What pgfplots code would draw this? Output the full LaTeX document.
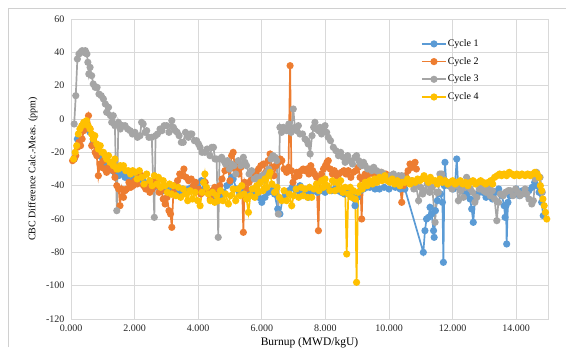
\documentclass[border=0pt]{standalone}
\usepackage{pgfplots}
\pgfplotsset{compat=1.18}
\usepackage{fontspec}
\setmainfont{Liberation Serif}
\definecolor{cA}{HTML}{5B9BD5}
\definecolor{cB}{HTML}{ED7D31}
\definecolor{cC}{HTML}{A5A5A5}
\definecolor{cD}{HTML}{FFC000}
\definecolor{gridc}{HTML}{D9D9D9}
\definecolor{framec}{HTML}{D0D0D0}
\begin{document}
\begin{tikzpicture}[x=1bp,y=1bp]
\useasboundingbox (0,0) rectangle (574,356);
\draw[framec,line width=0.8bp] (8,9) -- (8,348) -- (566,348);
\begin{axis}[
  at={(71bp,37bp)}, anchor=south west,
  scale only axis, width=477bp, height=300bp,
  xmin=0, xmax=15, ymin=-120, ymax=60,
  xtick={0,2,4,6,8,10,12,14},
  ytick={-120,-100,-80,-60,-40,-20,0,20,40,60},
  grid=major,
  major grid style={gridc, line width=0.7bp},
  axis line style={gridc, line width=0.7bp},
  major tick length=0pt,
  /pgf/number format/assume math mode=true,
  xticklabel style={/pgf/number format/fixed, /pgf/number format/fixed zerofill, /pgf/number format/precision=3, /pgf/number format/1000 sep={}, /tikz/yshift=-2bp},
  yticklabel style={/pgf/number format/fixed, /pgf/number format/precision=0, /tikz/xshift=-3bp},
  tick label style={font=\fontsize{10bp}{12bp}\selectfont, text=black!85},
  xlabel={Burnup (MWD/kgU)},
  ylabel={CBC Difference Calc.-Meas. (ppm)},
  xlabel style={font=\fontsize{11.5bp}{13bp}\selectfont, at={(axis description cs:0.5,-0.08)}, anchor=center},
  ylabel style={font=\fontsize{10bp}{12bp}\selectfont, at={(axis description cs:-0.0797,0.5)}, anchor=center},
  legend style={at={(axis description cs:0.734,0.937)}, anchor=north west, draw=none, fill=none,
     inner sep=0pt, outer sep=0pt, row sep=5.7bp,
     nodes={inner sep=1bp, text height=7.5bp, text depth=2.5bp},
     font=\fontsize{10bp}{12bp}\selectfont},
  legend cell align=left,
  legend image code/.code={\draw[mark repeat=2,mark phase=2] plot coordinates {(0bp,0bp) (12bp,0bp) (24bp,0bp)};},
  every axis plot/.append style={line width=1.7bp, mark=*, mark size=2.7bp},
]
% Cycle 1
\addplot[cA, mark options={fill=cA, draw=cA}] coordinates {
(0.10,-24)(0.20,-12)(0.30,-6)(0.40,-4)(0.50,-3)(0.60,-8)(0.70,-14)(0.80,-20)(0.90,-22)(1.00,-24)
(1.10,-27)(1.20,-28)(1.30,-31)(1.40,-33)(1.50,-34)(1.60,-32)(1.70,-35)(1.80,-34)(1.90,-36)(2.00,-35)
(2.10,-37)(2.20,-36)(2.30,-38)(2.40,-40)(2.50,-39)(2.60,-41)(2.70,-40)(2.80,-42)(2.90,-43)(3.00,-41)
(3.10,-44)(3.20,-43)(3.30,-45)(3.40,-43)(3.50,-42)(3.60,-44)(3.70,-42)(3.80,-41)(3.90,-39)(4.00,-41)
(4.10,-37)(4.20,-42)(4.30,-44)(4.40,-46)(4.50,-47)(4.60,-45)(4.70,-46)(4.80,-44)(4.90,-40)(5.00,-38)
(5.05,-35)(5.10,-36)(5.20,-42)(5.30,-44)(5.40,-43)(5.50,-45)(5.60,-44)(5.70,-45)(5.80,-46)(5.90,-47)
(6.00,-50)(6.10,-47)(6.20,-44)(6.30,-43)(6.40,-45)(6.50,-54)(6.57,-57)(6.65,-48)(6.75,-45)(6.85,-43)
(6.95,-41)(7.05,-42)(7.15,-43)(7.20,-40)(7.30,-43)(7.40,-45)(7.46,-47)(7.55,-44)(7.65,-43)(7.75,-44)
(7.85,-43)(7.99,-44)(8.10,-42)(8.20,-43)(8.30,-42)(8.40,-43)(8.50,-44)(8.60,-45)(8.70,-44)(8.80,-46)
(8.93,-52)(9.00,-47)(9.10,-43)(9.20,-42)(9.30,-41)(9.40,-41)(9.56,-42)(9.70,-42)(9.85,-41)(10.00,-42)
(10.20,-41)(10.35,-42)(10.50,-42)(11.08,-80)(11.13,-67)(11.18,-60)(11.24,-59)(11.29,-53)(11.34,-57)(11.40,-67)
(11.42,-71)(11.46,-55)(11.52,-49)(11.55,-44)(11.62,-45)(11.68,-50)(11.71,-86)(11.74,-40)(11.76,-26)(11.80,-38)
(11.88,-40)(11.95,-39)(12.02,-42)(12.08,-38)(12.13,-24)(12.17,-38)(12.25,-41)(12.32,-43)(12.40,-46)(12.48,-44)
(12.55,-48)(12.60,-54)(12.65,-62)(12.70,-49)(12.78,-45)(12.86,-42)(12.95,-44)(13.05,-47)(13.15,-45)(13.25,-48)
(13.35,-44)(13.45,-42)(13.55,-46)(13.62,-52)(13.65,-59)(13.68,-52)(13.70,-75)(13.74,-50)(13.80,-46)(13.90,-44)
(14.00,-42)(14.10,-46)(14.20,-43)(14.30,-45)(14.40,-43)(14.50,-41)(14.58,-38)(14.64,-40)(14.72,-44)(14.80,-50)
(14.85,-58)
};
\addlegendentry{Cycle 1}
% Cycle 2
\addplot[cB, mark options={fill=cB, draw=cB}] coordinates {
(0.05,-25)(0.10,-24)(0.15,-22)(0.20,-17)(0.25,-14)(0.30,-16)(0.35,-12)(0.40,-7)(0.45,-4)(0.50,-2)
(0.55,2)(0.60,-6)(0.65,-16)(0.70,-12)(0.76,-20)(0.81,-22)(0.86,-34)(0.91,-27)(0.96,-29)(1.02,-25)
(1.07,-30)(1.12,-32)(1.18,-29)(1.23,-30)(1.28,-28)(1.33,-31)(1.38,-35)(1.44,-40)(1.50,-42)(1.54,-52)
(1.59,-42)(1.65,-47)(1.70,-43)(1.75,-42)(1.82,-38)(1.88,-41)(1.95,-40)(2.01,-37)(2.08,-39)(2.15,-33)
(2.22,-34)(2.28,-40)(2.35,-42)(2.42,-39)(2.48,-44)(2.55,-42)(2.62,-37)(2.70,-40)(2.77,-44)(2.84,-43)
(2.90,-48)(2.96,-51)(3.02,-47)(3.08,-55)(3.13,-57)(3.17,-65)(3.22,-44)(3.28,-40)(3.35,-37)(3.42,-33)
(3.48,-34)(3.55,-30)(3.62,-35)(3.70,-37)(3.78,-36)(3.85,-40)(3.92,-38)(4.00,-42)(4.08,-45)(4.15,-44)
(4.22,-38)(4.30,-44)(4.38,-48)(4.45,-43)(4.52,-41)(4.60,-45)(4.68,-40)(4.75,-36)(4.84,-31)(4.92,-27)
(5.00,-37)(5.05,-22)(5.10,-20)(5.16,-30)(5.22,-27)(5.28,-33)(5.34,-29)(5.38,-40)(5.42,-68)(5.46,-38)
(5.52,-42)(5.60,-38)(5.68,-36)(5.75,-33)(5.82,-32)(5.90,-30)(5.97,-28)(6.05,-27)(6.12,-32)(6.20,-25)
(6.26,-21)(6.32,-29)(6.38,-34)(6.45,-28)(6.52,-26)(6.58,-24)(6.63,-25)(6.70,-30)(6.78,-32)(6.84,-29)
(6.89,32)(6.93,-31)(6.98,-38)(7.04,-35)(7.10,-32)(7.17,-34)(7.24,-31)(7.30,-30)(7.36,-31)(7.42,-30)
(7.48,-33)(7.54,-28)(7.60,-31)(7.66,-33)(7.72,-35)(7.78,-67)(7.82,-36)(7.88,-33)(7.94,-30)(8.00,-28)
(8.05,-26)(8.09,-25)(8.15,-30)(8.22,-33)(8.28,-31)(8.35,-34)(8.42,-33)(8.50,-32)(8.58,-31)(8.65,-33)
(8.72,-31)(8.80,-35)(8.88,-32)(8.96,-31)(9.03,-29)(9.09,-35)(9.14,-60)(9.18,-36)(9.25,-33)(9.32,-34)
(9.40,-31)(9.46,-31)(9.52,-33)(9.60,-36)(9.68,-34)(9.75,-32)(9.82,-35)(9.90,-33)(9.98,-36)(10.05,-34)
(10.12,-35)(10.20,-37)(10.28,-36)(10.35,-40)(10.40,-50)(10.45,-40)(10.52,-34)(10.60,-31)(10.66,-27)(10.72,-29)
(10.76,-27)(10.82,-26)(10.86,-30)
};
\addlegendentry{Cycle 2}
% Cycle 3
\addplot[cC, mark options={fill=cC, draw=cC}] coordinates {
(0.10,-3)(0.15,14)(0.20,36)(0.25,39)(0.30,40)(0.35,41)(0.40,40)(0.45,41)(0.50,39)(0.53,34)
(0.56,27)(0.60,31)(0.65,26)(0.70,21)(0.76,19)(0.82,19)(0.88,15)(0.95,14)(1.02,12)(1.08,9)
(1.12,4)(1.18,7)(1.24,2)(1.28,-2)(1.33,2)(1.38,-4)(1.44,-55)(1.49,-2)(1.55,-6)(1.62,-4)
(1.70,-4)(1.78,-6)(1.86,-7)(1.93,-9)(2.01,-8)(2.09,-11)(2.17,-10)(2.22,-2)(2.27,-3)(2.33,-8)
(2.38,-7)(2.45,-11)(2.54,-11)(2.62,-59)(2.66,-10)(2.72,-9)(2.80,-6)(2.86,-7)(2.93,-4)(3.01,-4)
(3.08,-8)(3.17,-1)(3.22,-5)(3.28,-7)(3.34,-8)(3.40,-10)(3.47,-14)(3.53,-14)(3.60,-8)(3.69,-11)
(3.75,-9)(3.80,-9)(3.88,-13)(3.95,-13)(4.01,-15)(4.06,-17)(4.12,-20)(4.21,-20)(4.28,-18)(4.37,-22)
(4.43,-17)(4.48,-17)(4.53,-24)(4.58,-24)(4.63,-71)(4.67,-24)(4.74,-23)(4.80,-25)(4.86,-27)(4.92,-25)
(4.98,-30)(5.05,-27)(5.12,-28)(5.18,-33)(5.26,-25)(5.34,-28)(5.42,-23)(5.47,-26)(5.52,-28)(5.60,-33)
(5.68,-31)(5.76,-36)(5.84,-35)(5.92,-38)(6.00,-34)(6.08,-36)(6.15,-32)(6.22,-30)(6.29,-24)(6.35,-22)
(6.42,-23)(6.47,-25)(6.52,-57)(6.57,-5)(6.62,-8)(6.68,-5)(6.73,-6)(6.78,-7)(6.85,-3)(6.92,-8)
(6.99,6)(7.04,-5)(7.10,-7)(7.15,-4)(7.20,-9)(7.28,-9)(7.36,-12)(7.42,-13)(7.46,-15)(7.52,-21)
(7.58,-10)(7.63,-5)(7.67,-2)(7.72,-6)(7.78,-7)(7.83,-5)(7.88,-9)(7.94,-6)(7.99,-4)(8.04,-8)
(8.09,-11)(8.16,-13)(8.25,-17)(8.33,-19)(8.41,-22)(8.48,-20)(8.56,-23)(8.62,-26)(8.70,-22)(8.77,-25)
(8.85,-27)(8.93,-23)(8.98,-22)(9.05,-25)(9.09,-27)(9.14,-28)(9.20,-26)(9.25,-28)(9.33,-30)(9.40,-30)
(9.46,-31)(9.52,-29)(9.61,-31)(9.70,-32)(9.77,-32)(9.82,-33)(9.90,-35)(9.96,-37)(10.05,-34)(10.14,-33)
(10.22,-36)(10.30,-34)(10.40,-34)(10.48,-37)(10.56,-36)(10.64,-38)(10.71,-37)(10.78,-42)(10.85,-40)(10.93,-49)
(11.00,-41)(11.06,-45)(11.13,-43)(11.20,-39)(11.28,-44)(11.36,-41)(11.45,-62)(11.50,-44)(11.55,-44)(11.60,-33)
(11.66,-33)(11.72,-36)(11.81,-38)(11.90,-40)(11.98,-42)(12.05,-38)(12.13,-40)(12.18,-49)(12.26,-43)(12.34,-47)
(12.40,-41)(12.44,-35)(12.49,-37)(12.56,-42)(12.63,-44)(12.70,-50)(12.76,-47)(12.84,-42)(12.92,-40)(12.97,-43)
(13.05,-44)(13.12,-41)(13.18,-46)(13.25,-43)(13.32,-48)(13.39,-61)(13.44,-50)(13.50,-45)(13.59,-46)(13.66,-44)
(13.75,-43)(13.81,-43)(13.90,-46)(13.98,-42)(14.05,-44)(14.12,-46)(14.20,-45)(14.28,-42)(14.33,-45)(14.40,-48)
(14.49,-51)(14.54,-49)(14.60,-36)(14.64,-32)(14.70,-35)(14.75,-35)(14.82,-44)
};
\addlegendentry{Cycle 3}
% Cycle 4
\addplot[cD, mark options={fill=cD, draw=cD}] coordinates {
(0.08,-24)(0.13,-20)(0.18,-16)(0.23,-9)(0.28,-6)(0.34,-4)(0.40,-2)(0.45,-3)(0.49,-1)(0.54,-4)
(0.60,-6)(0.65,-9)(0.70,-12)(0.75,-10)(0.81,-15)(0.86,-18)(0.92,-16)(0.97,-20)(1.02,-20)(1.07,-22)
(1.12,-24)(1.18,-22)(1.23,-26)(1.28,-26)(1.33,-28)(1.38,-24)(1.44,-30)(1.49,-30)(1.55,-28)(1.60,-29)
(1.65,-28)(1.72,-31)(1.80,-31)(1.87,-33)(1.94,-31)(2.01,-32)(2.08,-36)(2.15,-31)(2.22,-35)(2.30,-39)
(2.38,-33)(2.48,-37)(2.55,-40)(2.62,-34)(2.70,-39)(2.75,-35)(2.82,-41)(2.90,-37)(2.96,-40)(3.03,-44)
(3.10,-39)(3.16,-45)(3.22,-40)(3.30,-46)(3.38,-41)(3.45,-47)(3.53,-42)(3.60,-45)(3.67,-49)(3.74,-43)
(3.82,-48)(3.90,-44)(3.98,-49)(4.06,-52)(4.12,-44)(4.17,-38)(4.21,-33)(4.26,-41)(4.32,-45)(4.38,-49)
(4.45,-44)(4.52,-50)(4.58,-46)(4.63,-49)(4.70,-43)(4.78,-49)(4.86,-45)(4.95,-51)(5.02,-46)(5.10,-42)
(5.18,-49)(5.26,-42)(5.32,-46)(5.37,-40)(5.44,-45)(5.52,-48)(5.58,-56)(5.64,-46)(5.70,-42)(5.78,-47)
(5.84,-40)(5.89,-44)(5.96,-38)(6.04,-43)(6.10,-36)(6.16,-41)(6.22,-34)(6.26,-32)(6.32,-39)(6.40,-44)
(6.48,-41)(6.55,-47)(6.63,-49)(6.70,-43)(6.78,-49)(6.86,-45)(6.94,-52)(7.00,-46)(7.08,-42)(7.16,-47)
(7.24,-41)(7.30,-46)(7.36,-42)(7.44,-47)(7.50,-41)(7.57,-47)(7.64,-42)(7.72,-39)(7.80,-43)(7.88,-37)
(7.94,-41)(7.99,-36)(8.06,-40)(8.14,-43)(8.22,-37)(8.30,-43)(8.36,-38)(8.41,-42)(8.48,-37)(8.55,-44)
(8.62,-41)(8.67,-81)(8.72,-45)(8.78,-41)(8.83,-47)(8.88,-43)(8.94,-48)(8.98,-98)(9.03,-44)(9.10,-40)
(9.16,-42)(9.25,-38)(9.32,-40)(9.40,-37)(9.48,-39)(9.55,-36)(9.62,-38)(9.70,-35)(9.78,-37)(9.87,-34)
(9.95,-37)(10.03,-38)(10.10,-36)(10.18,-39)(10.26,-37)(10.34,-40)(10.42,-38)(10.50,-38)(10.58,-36)(10.66,-39)
(10.74,-37)(10.82,-38)(10.90,-36)(10.97,-37)(11.03,-36)(11.10,-34)(11.16,-36)(11.24,-38)(11.30,-35)(11.38,-37)
(11.45,-37)(11.52,-39)(11.60,-36)(11.68,-38)(11.76,-37)(11.84,-39)(11.92,-38)(12.00,-37)(12.08,-39)(12.16,-38)
(12.24,-37)(12.32,-39)(12.40,-38)(12.48,-40)(12.56,-38)(12.64,-37)(12.72,-39)(12.80,-38)(12.88,-37)(12.96,-38)
(13.04,-39)(13.12,-38)(13.20,-37)(13.26,-39)(13.32,-35)(13.40,-34)(13.48,-33)(13.54,-34)(13.62,-33)(13.70,-34)
(13.78,-32)(13.86,-33)(13.94,-34)(14.02,-33)(14.10,-34)(14.18,-33)(14.28,-34)(14.36,-33)(14.44,-34)(14.52,-33)
(14.59,-32)(14.66,-33)(14.72,-35)(14.76,-40)(14.80,-43)(14.84,-48)(14.88,-52)(14.92,-56)(14.96,-60)
};
\addlegendentry{Cycle 4}
\end{axis}
\end{tikzpicture}
\end{document}
